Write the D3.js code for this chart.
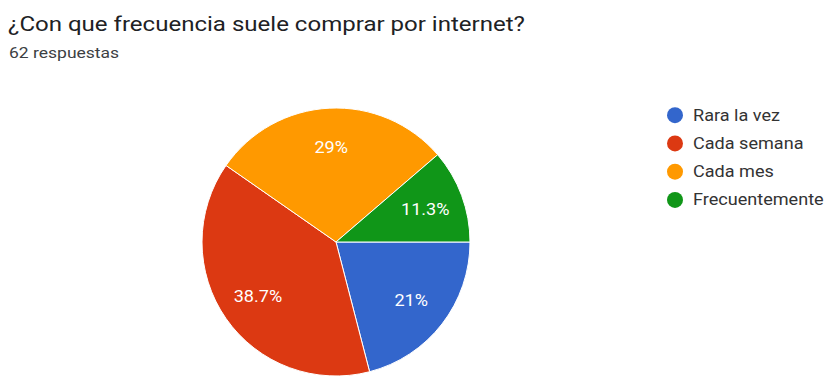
<!DOCTYPE html>
<html>
<head>
<meta charset="utf-8">
<script src="https://cdn.jsdelivr.net/npm/d3@7"></script>
<style>
  html, body { margin: 0; padding: 0; background: #fff; }
  svg { display: block; font-family: Roboto, Arial, sans-serif; }
</style>
</head>
<body>
<svg id="chart" width="824" height="376"></svg>
<script>
// Survey answers: how often people shop online (62 responses)
const categories = ["Rara la vez", "Cada semana", "Cada mes", "Frecuentemente"];
const counts = [13, 24, 18, 7];
const percentLabels = ["21%", "38.7%", "29%", "11.3%"];
const colors = ["#3366cc", "#dc3912", "#ff9900", "#109618"];
const title = "¿Con que frecuencia suele comprar por internet?";
const subtitle = "62 respuestas";

const svg = d3.select("#chart");
const stretch = 1.13; // text is set slightly wide

svg.append("text")
  .attr("transform", `translate(8,31) scale(1.145,1)`)
  .attr("font-size", 21)
  .attr("fill", "#202124")
  .text(title);

svg.append("text")
  .attr("transform", `translate(9,58) scale(${stretch},1)`)
  .attr("font-size", 15.5)
  .attr("fill", "#3c4043")
  .text(subtitle);

const cx = 336, cy = 242, r = 134;

const data = categories.map((c, i) => ({ name: c, value: counts[i], label: percentLabels[i], color: colors[i] }));

const pie = d3.pie()
  .value(d => d.value)
  .sort(null)
  .startAngle(Math.PI / 2)
  .endAngle(Math.PI / 2 + 2 * Math.PI);

const arc = d3.arc().innerRadius(0).outerRadius(r);
const labelArc = d3.arc().innerRadius(r * 0.71).outerRadius(r * 0.71);

const g = svg.append("g").attr("transform", `translate(${cx},${cy})`);
const arcs = pie(data);

g.selectAll("path.slice")
  .data(arcs)
  .join("path")
  .attr("class", "slice")
  .attr("d", arc)
  .attr("fill", d => d.data.color)
  .attr("stroke", "#fff")
  .attr("stroke-width", 1);

g.selectAll("text.pct")
  .data(arcs)
  .join("text")
  .attr("class", "pct")
  .attr("transform", d => {
    const [x, y] = labelArc.centroid(d);
    return `translate(${x},${y}) scale(${stretch},1)`;
  })
  .attr("text-anchor", "middle")
  .attr("dominant-baseline", "central")
  .attr("font-size", 16)
  .attr("fill", "#fff")
  .text(d => d.data.label);

// Legend on the right
const legendY = d3.scaleBand().domain(categories).range([101, 214]);
const items = svg.append("g").selectAll("g.item")
  .data(data)
  .join("g")
  .attr("class", "item")
  .attr("transform", d => `translate(675,${legendY(d.name) + legendY.bandwidth() / 2})`);

items.append("circle")
  .attr("r", 8)
  .attr("fill", d => d.color);

items.append("text")
  .attr("transform", `translate(18,0) scale(${stretch},1)`)
  .attr("dominant-baseline", "central")
  .attr("font-size", 16)
  .attr("fill", "#333")
  .text(d => d.name);
</script>
</body>
</html>
